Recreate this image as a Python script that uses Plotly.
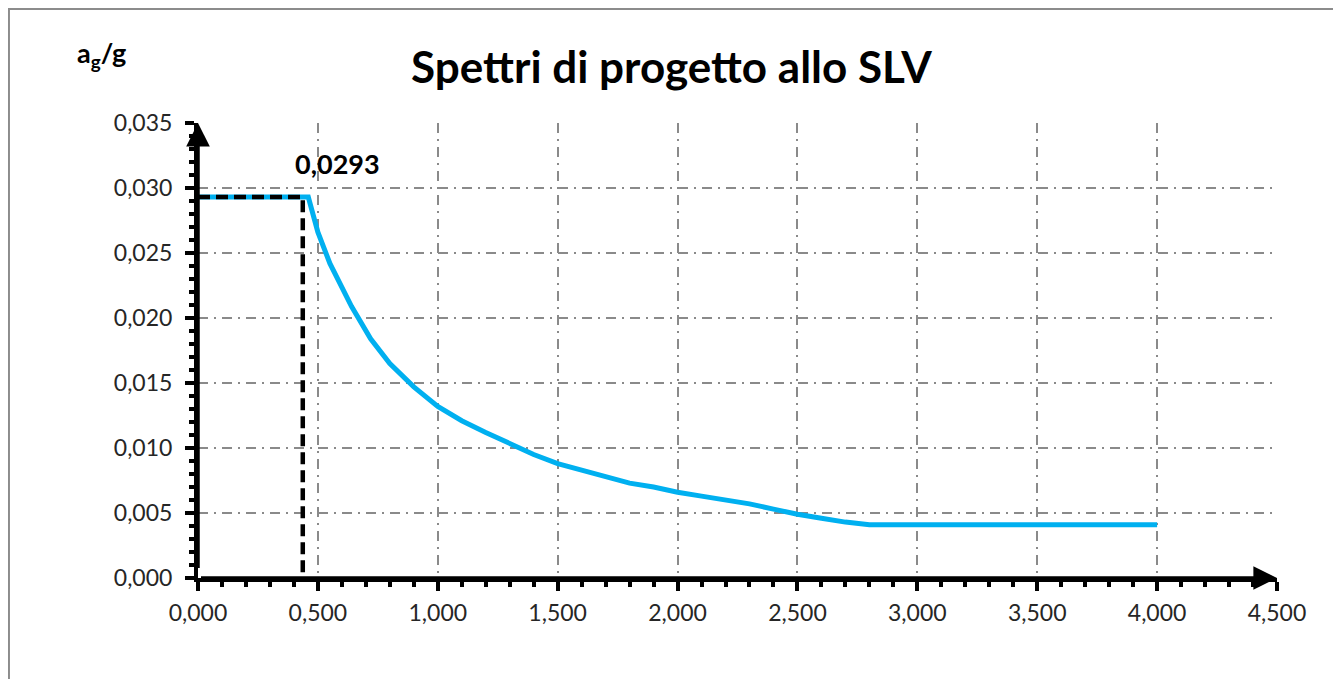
import plotly.graph_objects as go

# ---- data ----
T = [0.0, 0.46, 0.50, 0.55, 0.64, 0.72, 0.80, 0.90, 1.00, 1.10, 1.20, 1.30, 1.40,
     1.50, 1.60, 1.70, 1.80, 1.90, 2.00, 2.10, 2.20, 2.25, 2.30, 2.40, 2.50, 2.60,
     2.70, 2.80, 3.00, 3.50, 4.00]
Sd = [0.0293, 0.0293, 0.0266, 0.0242, 0.0209, 0.0184, 0.0165, 0.0147, 0.0132, 0.0121,
      0.0112, 0.0103, 0.0095, 0.0088, 0.0083, 0.0078, 0.0073, 0.0070, 0.0066, 0.0063,
      0.0060, 0.0059, 0.0057, 0.0053, 0.0049, 0.0046, 0.0043, 0.0041, 0.0041, 0.0041,
      0.0041]
Tc = 0.437
peak = 0.0293
peak_label = "0,0293"
title_text = "Spettri di progetto allo SLV"
y_label = "a<sub>g</sub>/g"
x_range = [0, 4.5]
y_range = [0, 0.035]

FONT = "Lato"

fig = go.Figure()
fig.add_trace(go.Scatter(x=T, y=Sd, mode="lines",
                         line=dict(color="#00B0F0", width=5), hoverinfo="skip"))
fig.add_trace(go.Scatter(x=[0, Tc, Tc], y=[peak, peak, 0], mode="lines",
                         line=dict(color="black", width=4.5, dash="12px,6px"), hoverinfo="skip"))

axis_common = dict(
    showline=True, linecolor="black", linewidth=4,
    ticks="outside", ticklen=9, tickwidth=4, tickcolor="black",
    showgrid=True, gridcolor="#8a8a8a", gridwidth=1.5, griddash="10px,6px,2px,6px",
    zeroline=False,
    tickfont=dict(family=FONT, size=23, color="#262626"),
)

fig.update_xaxes(range=x_range, dtick=0.5, tick0=0, tickformat=".3f",
                 minor=dict(dtick=0.1, ticks="outside", ticklen=5, tickwidth=4,
                            tickcolor="black", showgrid=False),
                 ticklabelstandoff=2, **axis_common)
fig.update_yaxes(range=y_range, dtick=0.005, tick0=0, tickformat=".3f",
                 minor=dict(dtick=0.001, ticks="outside", ticklen=5, tickwidth=4,
                            tickcolor="black", showgrid=False),
                 ticklabelstandoff=8, **axis_common)

# axis arrows
fig.add_annotation(x=x_range[1], y=0, ax=0, ay=0, xref="x", yref="y", axref="x", ayref="y",
                   showarrow=True, arrowhead=2, arrowsize=1.35, arrowwidth=3.5,
                   arrowcolor="black", text=" ", standoff=0)
fig.add_annotation(x=0, y=y_range[1], ax=0, ay=0, xref="x", yref="y", axref="x", ayref="y",
                   showarrow=True, arrowhead=2, arrowsize=1.35, arrowwidth=3.5,
                   arrowcolor="black", text=" ", standoff=0)

# peak label
fig.add_annotation(x=0.58, y=0.0319, xref="x", yref="y", text="<b>%s</b>" % peak_label,
                   showarrow=False, font=dict(family=FONT, size=27, color="black"))

fig.update_layout(
    width=1333, height=671,
    margin=dict(l=190, r=64, t=115, b=101),
    paper_bgcolor="white", plot_bgcolor="white",
    showlegend=False,
    separators=",.",
    title=dict(text="<b>%s</b>" % title_text, x=0.4977, xanchor="center",
               y=0.911, yanchor="middle", font=dict(family=FONT, size=44, color="black")),
)
fig.add_annotation(x=-0.0898, y=1.151, xref="paper", yref="paper", text="<b>%s</b>" % y_label,
                   showarrow=False, xanchor="center", yanchor="middle",
                   font=dict(family=FONT, size=27, color="black"))

# outer chart border
fig.add_shape(type="rect", xref="paper", yref="paper", x0=-0.1752, x1=1.0565,
              y0=-0.26, y1=1.2505, line=dict(color="#8c8c8c", width=2), layer="below")

fig.write_html("out.html")
